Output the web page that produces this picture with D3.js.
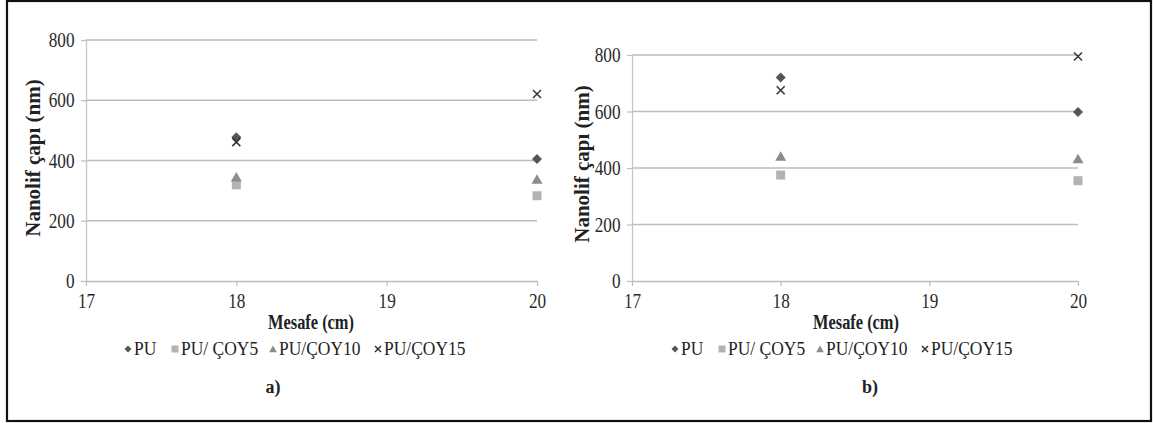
<!DOCTYPE html>
<html><head><meta charset="utf-8">
<script src="https://cdn.jsdelivr.net/npm/d3@7"></script>
<style>
body{margin:0;background:#fff}
text{font-family:"Liberation Serif","Times New Roman",serif}
</style>
</head><body>
<svg id="c" width="1153" height="423"></svg>
<script>
// ---- data ----
const xTicks = [17, 18, 19, 20];
const yTicks = [0, 200, 400, 600, 800];
const distances = [18, 20];
const seriesNames = ["PU", "PU/ ÇOY5", "PU/ÇOY10", "PU/ÇOY15"];
// panel a
const aPU = [477, 405];
const aCOY5 = [319, 283];
const aCOY10 = [345, 338];
const aCOY15 = [461, 621];
// panel b
const bPU = [720, 598];
const bCOY5 = [375, 355];
const bCOY10 = [442, 433];
const bCOY15 = [675, 795];
const xTitle = "Mesafe (cm)";
const yTitle = "Nanolif çapı (nm)";
const panelLabels = ["a)", "b)"];

// ---- layout ----
const svg = d3.select("#c");
svg.append("rect").attr("x", 7).attr("y", 1).attr("width", 1144).attr("height", 420)
  .attr("fill", "#fff").attr("stroke", "#111").attr("stroke-width", 2.2);

const panels = [
  {series: [aPU, aCOY5, aCOY10, aCOY15], x0: 86, x1: 537, yTop: 40, yBot: 281,
   titleX: 33, titleY: 158, xtX: 311, legX: 128, labX: 273},
  {series: [bPU, bCOY5, bCOY10, bCOY15], x0: 632, x1: 1078, yTop: 55, yBot: 281,
   titleX: 582, titleY: 164, xtX: 856, legX: 675, labX: 870}
];

const colors = ["#555555", "#b3b3b3", "#8c8c8c", "#333333"];

function markerPath(k, s) {
  const h = s / 2;
  if (k === 0) return `M0,${-h}L${h},0L0,${h}L${-h},0Z`;
  if (k === 1) return `M${-h},${-h}H${h}V${h}H${-h}Z`;
  if (k === 2) return `M0,${-h}L${h * 1.1},${h * 0.9}L${-h * 1.1},${h * 0.9}Z`;
  return `M${-h},${-h}L${h},${h}M${h},${-h}L${-h},${h}`;
}
function drawMarker(g, k, s) {
  const p = g.append("path").attr("d", markerPath(k, s));
  if (k === 3) p.attr("fill", "none").attr("stroke", colors[3]).attr("stroke-width", 1.5);
  else p.attr("fill", colors[k]);
  return p;
}
const mSizes = [10, 9, 10, 8];

panels.forEach((P, pi) => {
  const x = d3.scaleLinear().domain([17, 20]).range([P.x0, P.x1]);
  const y = d3.scaleLinear().domain([0, 800]).range([P.yBot, P.yTop]);
  const g = svg.append("g");

  // gridlines
  g.selectAll("line.grid").data(yTicks.filter(v => v > 0)).join("line")
    .attr("x1", P.x0).attr("x2", P.x1).attr("y1", d => y(d)).attr("y2", d => y(d))
    .attr("stroke", "#bdbdbd").attr("stroke-width", 1.4);

  // y axis
  const ya = g.append("g").attr("transform", `translate(${P.x0},0)`)
    .call(d3.axisLeft(y).tickValues(yTicks).tickSize(5).tickSizeOuter(0).tickPadding(9));
  ya.select(".domain").attr("stroke", "#c4c4c4").attr("stroke-width", 1.2);
  ya.selectAll(".tick line").attr("stroke", "#bdbdbd").attr("stroke-width", 1.2);
  ya.selectAll(".tick text").attr("font-size", 21).attr("fill", "#2a2a2a")
    .attr("font-family", "Liberation Serif").attr("transform", "scale(0.82,1)");

  // x axis
  const xa = g.append("g").attr("transform", `translate(0,${P.yBot})`)
    .call(d3.axisBottom(x).tickValues(xTicks).tickFormat(d3.format("d")).tickSize(5).tickSizeOuter(0).tickPadding(7));
  xa.select(".domain").attr("stroke", "#bdbdbd").attr("stroke-width", 1.4);
  xa.selectAll(".tick line").attr("stroke", "#bdbdbd").attr("stroke-width", 1.2);
  xa.selectAll(".tick text").attr("font-size", 21).attr("fill", "#2a2a2a")
    .attr("font-family", "Liberation Serif").attr("transform", "scale(0.82,1)");

  // y title
  g.append("text").attr("transform", `translate(${P.titleX},${P.titleY}) rotate(-90)`)
    .attr("text-anchor", "middle").attr("dominant-baseline", "central")
    .attr("font-size", 21).attr("font-weight", "bold").attr("fill", "#222").text(yTitle);

  // x title
  g.append("g").attr("transform", `translate(${P.xtX},322) scale(0.82,1)`)
    .append("text").attr("text-anchor", "middle").attr("dominant-baseline", "central")
    .attr("font-size", 20).attr("font-weight", "bold").attr("fill", "#222").text(xTitle);

  // points
  P.series.forEach((vals, k) => {
    vals.forEach((v, i) => {
      const mg = g.append("g").attr("transform", `translate(${x(distances[i])},${y(v)})`);
      drawMarker(mg, k, mSizes[k]);
    });
  });

  // legend
  const legOffsets = [0, 47, 145, 250];
  const lg = g.append("g").attr("transform", `translate(${P.legX},349)`);
  seriesNames.forEach((nm, k) => {
    const it = lg.append("g").attr("transform", `translate(${legOffsets[k]},0)`);
    drawMarker(it, k, k === 3 ? 6 : 7);
    it.append("g").attr("transform", "translate(6,0) scale(0.92,1)")
      .append("text").attr("dominant-baseline", "central").attr("font-size", 19)
      .attr("fill", "#222").text(nm);
  });

  // panel label
  g.append("text").attr("x", P.labX).attr("y", 387).attr("text-anchor", "middle")
    .attr("dominant-baseline", "central").attr("font-size", 18).attr("font-weight", "bold")
    .attr("fill", "#222").text(panelLabels[pi]);
});
</script>
</body></html>
